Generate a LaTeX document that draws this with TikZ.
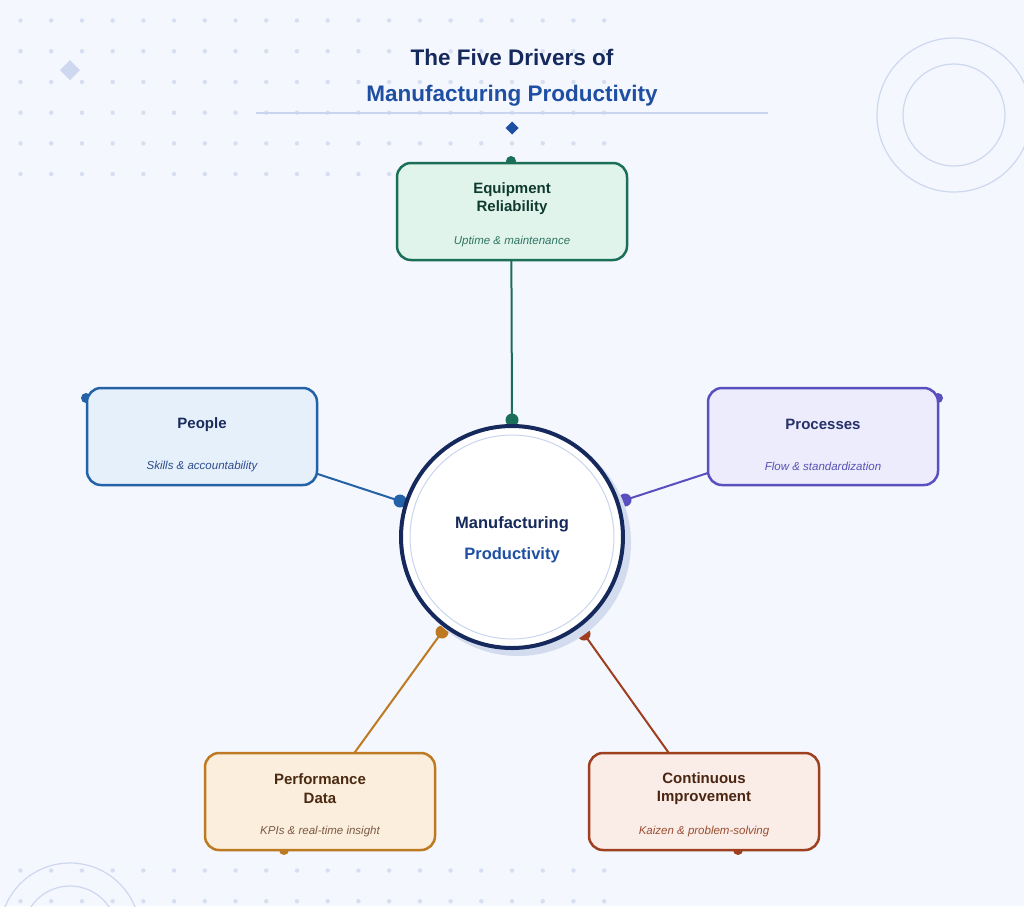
\documentclass[tikz,border=0pt]{standalone}
\usepackage{fontspec}
\setmainfont{Liberation Sans}
\usetikzlibrary{positioning}

\definecolor{bgc}{HTML}{F4F7FD}
\definecolor{dotc}{HTML}{D6DEF1}
\definecolor{ringc}{HTML}{CDD7F0}
\definecolor{navy}{HTML}{16295C}
\definecolor{royal}{HTML}{1F4FA3}
\definecolor{shadowc}{HTML}{D3DCEF}
\definecolor{innerc}{HTML}{C9D5EF}
% driver colours
\definecolor{eqfill}{HTML}{E1F4EC}\definecolor{eqline}{HTML}{1B6E57}
\definecolor{eqhead}{HTML}{0F3B2F}\definecolor{eqsub}{HTML}{2E7561}
\definecolor{pefill}{HTML}{E6F0FB}\definecolor{peline}{HTML}{2462A8}
\definecolor{pehead}{HTML}{1A2B5E}\definecolor{pesub}{HTML}{2E4B8C}
\definecolor{prfill}{HTML}{ECECFC}\definecolor{prline}{HTML}{5A4FBE}
\definecolor{prhead}{HTML}{263069}\definecolor{prsub}{HTML}{5A52B3}
\definecolor{dafill}{HTML}{FBEEDC}\definecolor{daline}{HTML}{BE7A22}
\definecolor{dahead}{HTML}{4A2A12}\definecolor{dasub}{HTML}{7A5A44}
\definecolor{cifill}{HTML}{FAECE7}\definecolor{ciline}{HTML}{9E3F1F}
\definecolor{cihead}{HTML}{4A2612}\definecolor{cisub}{HTML}{9A4E30}

\begin{document}
\begin{tikzpicture}[x=1pt,y=-1pt,
    box/.style={draw,rounded corners=14pt,line width=2.5pt,minimum width=230pt,minimum height=97pt},
    head/.style={font=\fontsize{15}{18.5}\selectfont\bfseries,align=center},
    sub/.style={font=\fontsize{11.5}{14}\selectfont\itshape},
    pin/.style={circle,inner sep=0pt,minimum size=10pt},
    hub/.style={circle,inner sep=0pt,minimum size=13pt},
    link/.style={line width=2pt}]
  \useasboundingbox (0,0) rectangle (1024,906);
  \fill[bgc] (0,0) rectangle (1024,906);

  % background decoration
  \foreach \i in {0,...,19} {
    \foreach \j in {0,...,5}
      \fill[dotc] (20.5+\i*30.72,20.5+\j*30.72) circle (2.2pt);
    \fill[dotc] (20.5+\i*30.72,870.5) circle (2.2pt);
    \fill[dotc] (20.5+\i*30.72,901.2) circle (2.2pt);
  }
  \fill[ringc] (70,60) -- (80,70) -- (70,80) -- (60,70) -- cycle;
  \begin{scope}[draw=ringc,line width=1.2pt]
    \draw (954,115) circle (77pt);
    \draw (954,115) circle (51pt);
    \draw (70,933) circle (70pt);
    \draw (70,933) circle (47pt);
  \end{scope}

  % title
  \node[font=\fontsize{22.5}{27}\selectfont\bfseries,text=navy] (title) at (512,57.5) {The Five Drivers of};
  \node[font=\fontsize{22.5}{27}\selectfont\bfseries,text=royal] (subtitle) at (512,96) {Manufacturing Productivity};
  \coordinate (ruleL) at (256,113);
  \coordinate (ruleR) at (768,113);
  \draw[innerc,line width=1.5pt] (ruleL) -- (ruleR);
  \fill[royal] (512,121.5) -- (518.5,128) -- (512,134.5) -- (505.5,128) -- cycle;

  % connectors (drawn under the boxes and the hub)
  \node[pin,fill=eqline] (eqA) at (511,161) {};
  \node[hub,fill=eqline] (eqB) at (512,420) {};
  \draw[link,eqline] (eqA.center) -- (eqB.center);
  \node[pin,fill=peline] (peA) at (86,398) {};
  \node[hub,fill=peline] (peB) at (400,501) {};
  \draw[link,peline] (peA.center) -- (peB.center);
  \node[pin,fill=prline] (prA) at (938,398) {};
  \node[hub,fill=prline] (prB) at (625,500) {};
  \draw[link,prline] (prA.center) -- (prB.center);
  \node[pin,fill=daline] (daA) at (284,850) {};
  \node[hub,fill=daline] (daB) at (442,632) {};
  \draw[link,daline] (daA.center) -- (daB.center);
  \node[pin,fill=ciline] (ciA) at (738,850) {};
  \node[hub,fill=ciline] (ciB) at (584,634) {};
  \draw[link,ciline] (ciA.center) -- (ciB.center);

  % hub
  \fill[shadowc] (518,543) circle (113pt);
  \node[circle,draw=navy,fill=white,line width=4pt,minimum size=222pt,inner sep=0pt] (core) at (512,537) {};
  \node[circle,draw=innerc,line width=1pt,minimum size=204pt,inner sep=0pt] (coreIn) at (512,537) {};
  \node[font=\fontsize{16.5}{20}\selectfont\bfseries,text=navy] (coreT) at (512,524) {Manufacturing};
  \node[font=\fontsize{16.5}{20}\selectfont\bfseries,text=royal] (coreS) at (512,555) {Productivity};

  % drivers
  \node[box,draw=eqline,fill=eqfill] (eq) at (512,211.5) {};
  \node[head,text=eqhead] (eqT) at ([yshift=-37pt]eq.north) {Equipment\\Reliability};
  \node[sub,text=eqsub] (eqS) at ([yshift=-80pt]eq.north) {Uptime \& maintenance};

  \node[box,draw=peline,fill=pefill] (pe) at (202,436.5) {};
  \node[head,text=pehead] (peT) at ([yshift=-38pt]pe.north) {People};
  \node[sub,text=pesub] (peS) at ([yshift=-80pt]pe.north) {Skills \& accountability};

  \node[box,draw=prline,fill=prfill] (pr) at (823,436.5) {};
  \node[head,text=prhead] (prT) at ([yshift=-38pt]pr.north) {Processes};
  \node[sub,text=prsub] (prS) at ([yshift=-80pt]pr.north) {Flow \& standardization};

  \node[box,draw=daline,fill=dafill] (da) at (320,801.5) {};
  \node[head,text=dahead] (daT) at ([yshift=-37pt]da.north) {Performance\\Data};
  \node[sub,text=dasub] (daS) at ([yshift=-80pt]da.north) {KPIs \& real-time insight};

  \node[box,draw=ciline,fill=cifill] (ci) at (704,801.5) {};
  \node[head,text=cihead] (ciT) at ([yshift=-37pt]ci.north) {Continuous\\Improvement};
  \node[sub,text=cisub] (ciS) at ([yshift=-80pt]ci.north) {Kaizen \& problem-solving};
\end{tikzpicture}
\end{document}
